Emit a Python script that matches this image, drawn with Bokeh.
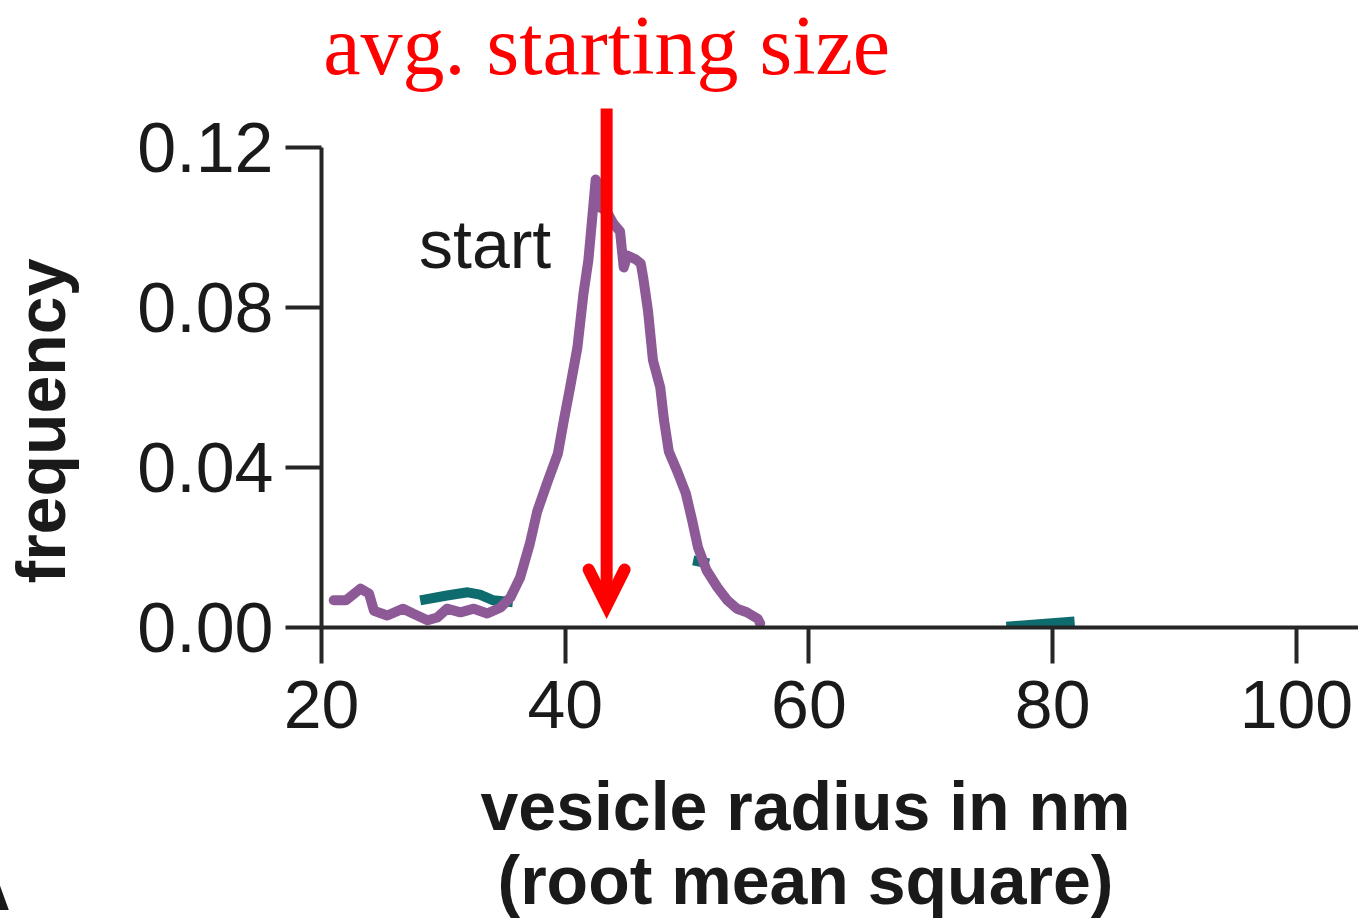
from bokeh.embed import file_html
from bokeh.models import Arrow, FixedTicker, Label, OpenHead, PrintfTickFormatter, Range1d, Title
from bokeh.plotting import figure
from bokeh.resources import INLINE

# Size distribution at the start (radius in nm vs. frequency)
start_radius = [21.0, 22.0, 23.2, 23.9, 24.3, 25.4, 26.7, 27.5, 28.7, 29.5,
                30.3, 31.4, 32.5, 33.6, 34.7, 35.5, 36.3, 37.1, 37.7, 38.5,
                39.4, 39.9, 40.4, 41.0, 41.5, 41.9, 42.2, 42.5, 42.7, 42.9,
                43.4, 43.95, 44.5, 44.8, 45.1, 45.8, 46.2, 46.4, 46.8, 47.2,
                47.8, 48.1, 48.5, 49.2, 49.9, 50.4, 50.9, 51.6, 52.5, 53.3,
                54.1, 54.9, 55.8, 56.0]
start_freq = [0.0068, 0.0068, 0.0097, 0.0085, 0.0042, 0.0030, 0.0047, 0.0035, 0.0018, 0.0025,
              0.0047, 0.0038, 0.0047, 0.0035, 0.0050, 0.0075, 0.0125, 0.0210, 0.0290, 0.0360,
              0.0435, 0.0520, 0.0600, 0.0700, 0.0835, 0.0918, 0.1018, 0.1120, 0.1110, 0.1050,
              0.1040, 0.1010, 0.0990, 0.0900, 0.0930, 0.0920, 0.0910, 0.0875, 0.0790, 0.0668,
              0.0600, 0.0520, 0.0440, 0.0390, 0.0335, 0.0270, 0.0200, 0.0143, 0.0100, 0.0068,
              0.0047, 0.0038, 0.0022, 0.0010]

# Visible pieces of the second distribution (mostly hidden behind the first)
other_radius = [[28.1, 30.3, 32.0, 33.0, 34.1, 35.7],
                [50.5, 51.8],
                [76.2, 81.8]]
other_freq = [[0.0068, 0.0080, 0.0088, 0.0082, 0.0068, 0.0063],
              [0.0168, 0.0160],
              [0.0002, 0.0015]]

# Average starting radius marked by the arrow
AVG_START = 43.4

x_ticks = [20, 40, 60, 80, 100]
y_ticks = [0.0, 0.04, 0.08, 0.12]

SANS = "Liberation Sans"
SERIF = "Liberation Serif"
AXIS_COLOR = "#262626"
TEXT_COLOR = "#1a1a1a"

p = figure(width=1358, height=921, output_backend="svg", toolbar_location=None,
           x_range=Range1d(20, 105.1), y_range=Range1d(0, 0.15675),
           min_border_left=321, min_border_bottom=294, min_border_top=0, min_border_right=0)
p.outline_line_color = None
p.grid.visible = False
p.background_fill_color = "white"
p.border_fill_color = "white"

for ax in (p.xaxis, p.yaxis):
    ax.axis_line_color = AXIS_COLOR
    ax.axis_line_width = 4
    ax.major_tick_line_color = AXIS_COLOR
    ax.major_tick_line_width = 4
    ax.major_tick_in = 0
    ax.major_tick_out = 36
    ax.minor_tick_line_color = None
    ax.major_label_text_font = SANS
    ax.major_label_text_color = TEXT_COLOR

p.xaxis.major_label_text_font_size = "68px"
p.yaxis.major_label_text_font_size = "70px"
p.xaxis.ticker = FixedTicker(ticks=x_ticks)
p.yaxis.ticker = FixedTicker(ticks=y_ticks)
p.yaxis.formatter = PrintfTickFormatter(format="%.2f")
p.yaxis.bounds = (0, 0.12)
p.xaxis.major_label_standoff = 17
p.yaxis.major_label_standoff = 12

p.multi_line(other_radius, other_freq, line_color="#0E6B6E", line_width=10)
p.line(start_radius, start_freq, line_color="#8D5A97", line_width=10,
       line_join="round", line_cap="round")

p.add_layout(Label(x=28.0, y=0.0864, text="start", text_font=SANS, text_baseline="bottom",
                   text_font_size="68px", text_color=TEXT_COLOR))

p.add_layout(Arrow(end=OpenHead(size=36, line_color="red", line_width=12,
                                line_cap="round", line_join="miter"),
                   x_start=AVG_START, y_start=0.12975, x_end=AVG_START, y_end=0.0055,
                   line_color="red", line_width=12))
p.add_layout(Label(x=AVG_START, y=0.1340, text="avg. starting size", text_align="center",
                   text_baseline="bottom", text_font=SERIF, text_font_size="84px",
                   text_color="red"))

# Axis titles as side-panel titles, so they can be placed off-centre
title_style = dict(text_font=SANS, text_font_size="68px", text_font_style="bold",
                   text_color=TEXT_COLOR, align="left")
# the empty second line keeps a gap between the title and the tick labels
p.add_layout(Title(text="frequency\n", vertical_align="top", offset=44, standoff=4,
                   text_line_height=0.68, **title_style), "left")
p.add_layout(Title(text="vesicle radius in nm", vertical_align="top", offset=159, standoff=74,
                   **title_style), "below")
p.add_layout(Title(text="(root mean square)", vertical_align="top", offset=176, standoff=-82,
                   **title_style), "below")
# panel letter at the lower-left corner
p.add_layout(Title(text="A", vertical_align="top", offset=-360, standoff=-70,
                   **title_style), "below")

open("out.html", "w").write(file_html(p, INLINE))
